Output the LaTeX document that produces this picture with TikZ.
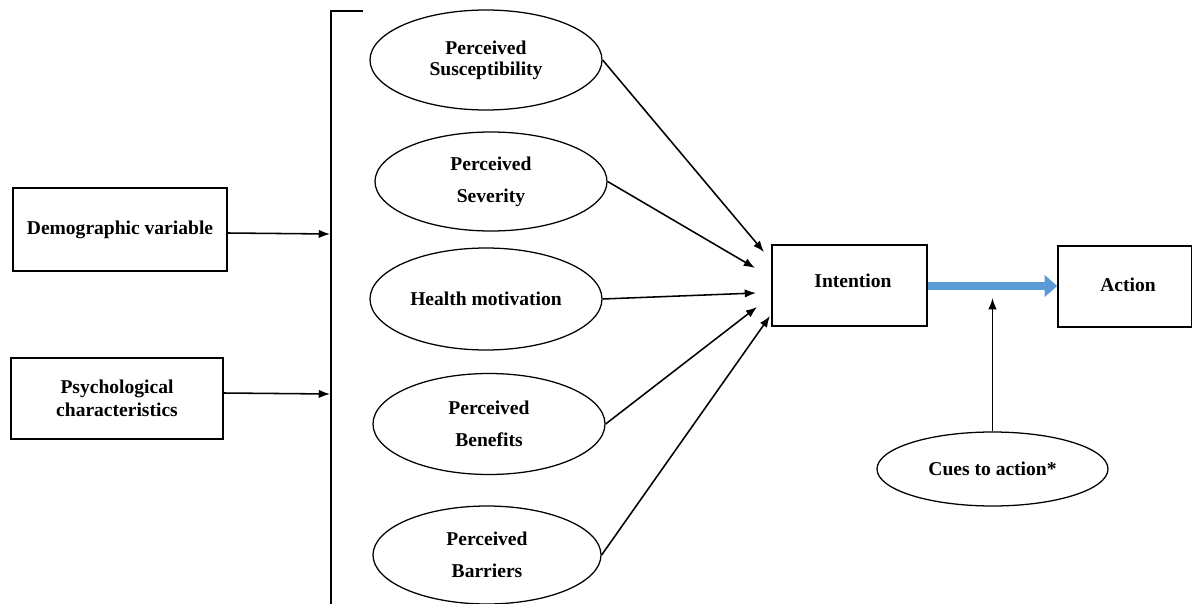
\documentclass[tikz,border=0pt]{standalone}
\usepackage{fontspec}
\setmainfont{Liberation Serif}
\usetikzlibrary{arrows.meta,shapes.geometric}
\definecolor{officeblue}{RGB}{91,155,213}
\begin{document}
\begin{tikzpicture}[x=0.025cm,y=-0.025cm,
  every node/.style={font=\fontsize{13.9pt}{16pt}\selectfont\bfseries},
  boxnode/.style={draw,line width=1pt,rectangle,inner sep=0pt,align=center},
  ellnode/.style={draw,line width=0.9pt,ellipse,inner sep=0pt,align=center},
  arr/.style={line width=1.1pt,-{Latex[length=8pt,width=6pt]}}]
\useasboundingbox (0,0) rectangle (1192,604);
% left boxes
\node[boxnode,minimum width=214*0.025cm,minimum height=83*0.025cm] (dem) at (120,229.5) {Demographic variable};
\node[boxnode,minimum width=212*0.025cm,minimum height=81*0.025cm] (psy) at (117,398.5) {Psychological\\[0pt]characteristics};
% bracket
\coordinate (brt) at (363,11);
\coordinate (brc) at (331,11);
\coordinate (brb) at (331,606);
\draw[line width=1.5pt] (brt) -- (brc) -- (brb);
\coordinate (dt) at (330,234);
\coordinate (pt) at (330,394);
\draw[arr] (dem.east |- 0,233) -- (dt);
\draw[arr] (psy.east |- 0,393) -- (pt);
% ellipses
\node[ellnode,minimum width=232*0.025cm,minimum height=100*0.025cm] (sus) at (486,60) {Perceived\\[-1pt]Susceptibility};
\node[ellnode,minimum width=232*0.025cm,minimum height=99*0.025cm] (sev) at (491,181.5) {Perceived\\[7pt]Severity};
\node[ellnode,minimum width=232*0.025cm,minimum height=102*0.025cm] (hea) at (486,299) {Health motivation};
\node[ellnode,minimum width=232*0.025cm,minimum height=101*0.025cm] (ben) at (489,424) {Perceived\\[7pt]Benefits};
\node[ellnode,minimum width=228*0.025cm,minimum height=98*0.025cm] (bar) at (487,555) {Perceived\\[7pt]Barriers};
% intention and action
\node[boxnode,minimum width=155*0.025cm,minimum height=81*0.025cm] (int) at (849.5,285.5) {};
\node (intt) at (853,281) {Intention};
\node[boxnode,minimum width=134*0.025cm,minimum height=81*0.025cm] (act) at (1125,286.5) {};
\node (actt) at (1128,285) {Action};
\node[ellnode,minimum width=231*0.025cm,minimum height=74*0.025cm] (cue) at (992.5,469) {Cues to action*};
% arrows into intention
\coordinate (t1) at (764,252);
\coordinate (t2) at (755,268);
\coordinate (t3) at (756,293);
\coordinate (t4) at (757,307);
\coordinate (t5) at (770,316);
\draw[arr] (sus.east) -- (t1);
\draw[arr] (sev.east) -- (t2);
\draw[arr] (hea.east) -- (t3);
\draw[arr] (ben.east) -- (t4);
\draw[arr] (bar.east) -- (t5);
% blue arrow
\draw[officeblue,line width=5pt,-{Triangle[length=9pt,width=15pt]}] (int.east |- 0,286) -- (act.west |- 0,286);
% cues arrow
\coordinate (ct) at (992.5,298);
\draw[arr] (cue.north) -- (ct);
\end{tikzpicture}
\end{document}
